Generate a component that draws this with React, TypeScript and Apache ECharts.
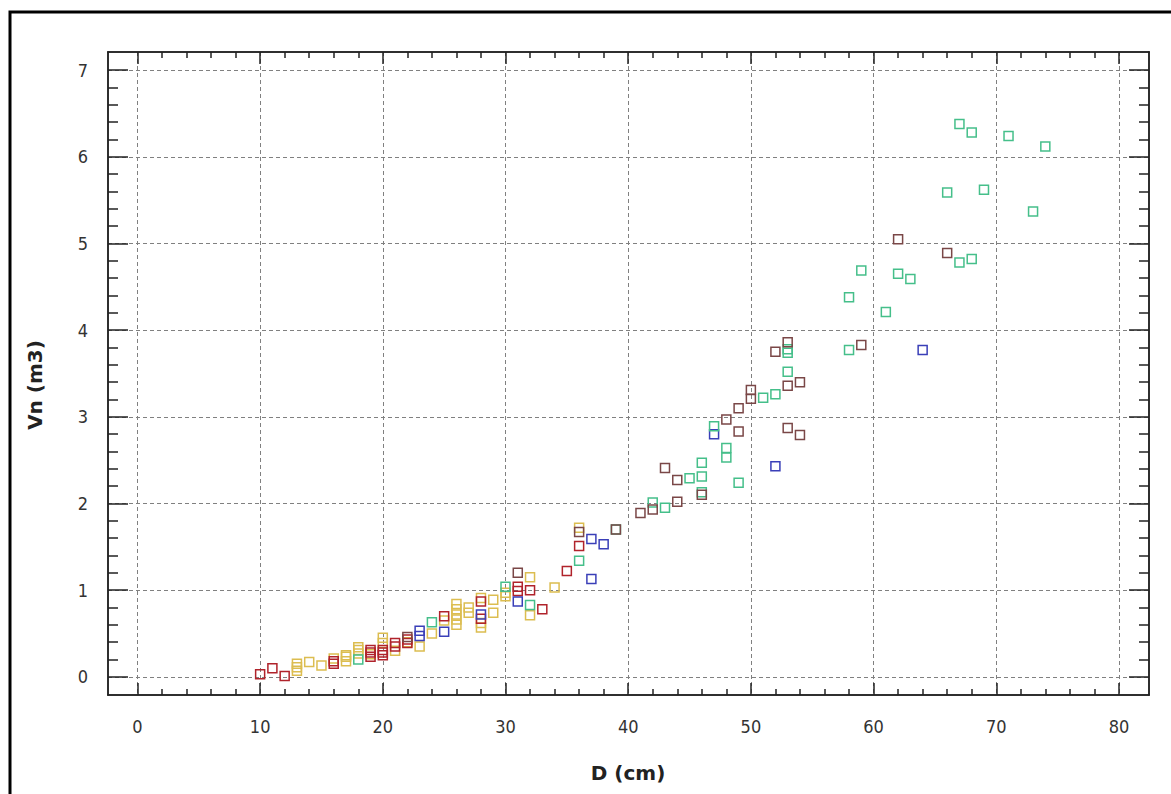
import React, { useEffect, useRef } from "react";
import * as echarts from "echarts";

// Stem volume (Vn, m3) against diameter (D, cm), one series per group
const redPoints: [number, number][] = [
  [10, 0.03], [11, 0.1], [12, 0.01], [16, 0.15], [16, 0.18], [19, 0.23], [19, 0.28], [19, 0.31],
  [20, 0.25], [20, 0.28], [20, 0.31], [21, 0.35], [21, 0.39], [22, 0.39], [22, 0.43], [25, 0.7],
  [28, 0.67], [28, 0.87], [31, 0.99], [31, 1.04], [32, 1.0], [33, 0.78], [35, 1.22], [36, 1.51],
];
const yellowPoints: [number, number][] = [
  [13, 0.07], [13, 0.11], [13, 0.15], [14, 0.17], [15, 0.13], [16, 0.21], [17, 0.18], [17, 0.23],
  [17, 0.25], [18, 0.27], [18, 0.31], [18, 0.34], [19, 0.26], [20, 0.39], [20, 0.45], [21, 0.3],
  [22, 0.4], [23, 0.35], [24, 0.5], [25, 0.65], [26, 0.6], [26, 0.66], [26, 0.72], [26, 0.78],
  [26, 0.84], [27, 0.74], [27, 0.8], [28, 0.57], [28, 0.62], [28, 0.91], [29, 0.74], [29, 0.89],
  [30, 0.93], [30, 0.97], [32, 0.71], [32, 1.15], [34, 1.03], [36, 1.72],
];
const bluePoints: [number, number][] = [
  [23, 0.47], [23, 0.53], [25, 0.52], [28, 0.72], [31, 0.87], [37, 1.59], [37, 1.13], [38, 1.53],
  [47, 2.8], [52, 2.43], [64, 3.77],
];
const tealPoints: [number, number][] = [
  [18, 0.2], [24, 0.63], [30, 1.04], [32, 0.83], [36, 1.34], [39, 1.7], [42, 2.01], [43, 1.95],
  [45, 2.29], [46, 2.47], [46, 2.31], [46, 2.13], [47, 2.89], [48, 2.64], [48, 2.53], [49, 2.24],
  [51, 3.22], [52, 3.26], [53, 3.78], [53, 3.74], [53, 3.52], [58, 3.77], [58, 4.38], [59, 4.69],
  [61, 4.21], [62, 4.65], [63, 4.59], [66, 5.59], [67, 4.78], [68, 4.82], [67, 6.38], [68, 6.28],
  [69, 5.62], [71, 6.24], [73, 5.37], [74, 6.12],
];
const brownPoints: [number, number][] = [
  [22, 0.46], [31, 1.2], [36, 1.67], [39, 1.7], [41, 1.89], [42, 1.93], [43, 2.41], [44, 2.27],
  [44, 2.02], [46, 2.1], [48, 2.97], [49, 2.83], [49, 3.1], [50, 3.31], [50, 3.21], [52, 3.75],
  [53, 3.86], [53, 3.36], [53, 2.87], [54, 3.4], [54, 2.79], [59, 3.83], [62, 5.05], [66, 4.89],
];

// Axis ticks
const xMajor = [0, 10, 20, 30, 40, 50, 60, 70, 80];
const xMinor: number[] = [];
for (let v = 2; v < 80; v += 2) if (v % 10 !== 0) xMinor.push(v);
const yMajor = [0, 1, 2, 3, 4, 5, 6, 7];
const yMinor: number[] = [];
for (let i = 1; i < 35; i++) if (i % 5 !== 0) yMinor.push(Math.round(i * 20) / 100);

const X_MIN = -2.4;
const X_MAX = 82.45;
const Y_MIN = -0.21;
const Y_MAX = 7.21;

const FRAME = "#222";
const LABEL_FONT = "'Liberation Sans Narrow', 'DejaVu Sans Condensed', sans-serif";
const TITLE_FONT = "'DejaVu Sans', sans-serif";

const groups = [
  { name: "A", color: "#dcbd50", data: yellowPoints },
  { name: "B", color: "#b0232b", data: redPoints },
  { name: "C", color: "#3a3fb8", data: bluePoints },
  { name: "D", color: "#45bf8a", data: tealPoints },
  { name: "E", color: "#7a4747", data: brownPoints },
];

function xAxisDef(position: "bottom" | "top", ticks: number[], len: number, main: boolean) {
  return {
    type: "value",
    position,
    min: X_MIN,
    max: X_MAX,
    axisLine: { show: true, onZero: false, lineStyle: { color: FRAME, width: 1.5 } },
    axisTick: { show: true, inside: true, length: len, customValues: ticks, lineStyle: { color: FRAME, width: 1.5 } },
    axisLabel: main
      ? { show: true, customValues: xMajor, margin: 22, color: "#333", fontSize: 18, fontFamily: LABEL_FONT }
      : { show: false },
    splitLine: main
      ? { show: true, lineStyle: { color: "#808080", width: 1, type: [4, 3] } }
      : { show: false },
  };
}

function yAxisDef(position: "left" | "right", ticks: number[], len: number, main: boolean) {
  return {
    type: "value",
    position,
    min: Y_MIN,
    max: Y_MAX,
    axisLine: { show: true, onZero: false, lineStyle: { color: FRAME, width: 1.5 } },
    axisTick: { show: true, inside: true, length: len, customValues: ticks, lineStyle: { color: FRAME, width: 1.5 } },
    axisLabel: main
      ? { show: true, customValues: yMajor, margin: 20, color: "#333", fontSize: 18, fontFamily: LABEL_FONT }
      : { show: false },
    splitLine: main
      ? { show: true, lineStyle: { color: "#808080", width: 1, type: [4, 3] } }
      : { show: false },
  };
}

export default function App() {
  const ref = useRef<HTMLDivElement>(null);

  useEffect(() => {
    if (!ref.current) return;
    const chart = echarts.init(ref.current, null, { renderer: "svg" });
    chart.setOption({
      animation: false,
      backgroundColor: "#fff",
      grid: { left: 108, right: 22, top: 52, bottom: 99, containLabel: false },
      xAxis: [
        xAxisDef("bottom", xMajor, 12, true),
        xAxisDef("bottom", xMinor, 6, false),
        xAxisDef("top", xMajor, 12, false),
        xAxisDef("top", xMinor, 6, false),
      ],
      yAxis: [
        yAxisDef("left", yMajor, 20, true),
        yAxisDef("left", yMinor, 10, false),
        yAxisDef("right", yMajor, 20, false),
        yAxisDef("right", yMinor, 10, false),
      ],
      series: groups.map((g) => ({
        name: g.name,
        type: "scatter",
        xAxisIndex: 0,
        yAxisIndex: 0,
        symbol: "rect",
        symbolSize: 9,
        data: g.data,
        itemStyle: { color: "transparent", borderColor: g.color, borderWidth: 1.5, opacity: 1 },
        emphasis: { disabled: true },
      })),
      graphic: [
        {
          type: "rect",
          shape: { x: 10, y: 12, width: 1300, height: 900 },
          style: { fill: "none", stroke: "#000", lineWidth: 3 },
          silent: true,
        },
        {
          type: "text",
          x: 628,
          y: 773,
          style: {
            text: "D (cm)",
            fill: "#222",
            font: `bold 20px ${TITLE_FONT}`,
            textAlign: "center",
            textVerticalAlign: "middle",
          },
        },
        {
          type: "text",
          x: 35,
          y: 385,
          rotation: Math.PI / 2,
          style: {
            text: "Vn (m3)",
            fill: "#222",
            font: `bold 20px ${TITLE_FONT}`,
            textAlign: "center",
            textVerticalAlign: "middle",
          },
        },
      ],
    });
    return () => chart.dispose();
  }, []);

  return (
    <div
      ref={ref}
      style={{ position: "absolute", left: 0, top: 0, width: 1171, height: 794 }}
    />
  );
}
